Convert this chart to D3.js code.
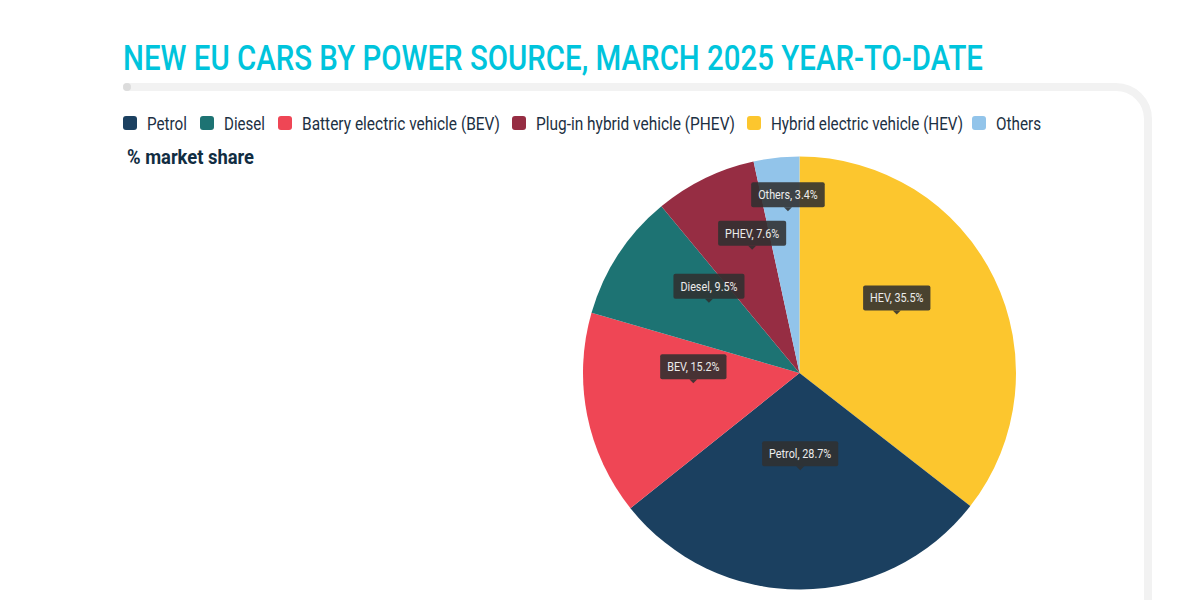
<!DOCTYPE html>
<html>
<head>
<meta charset="utf-8">
<script src="https://cdn.jsdelivr.net/npm/d3@7"></script>
<style>
  html, body { margin: 0; padding: 0; background: #fff; overflow: hidden; }
  text { font-family: Roboto, sans-serif; }
</style>
</head>
<body>
<div id="chart"></div>
<script>
// Data
var categories = ["HEV", "Petrol", "BEV", "Diesel", "PHEV", "Others"];
var shares = [35.5, 28.7, 15.2, 9.5, 7.6, 3.4];

// legend runs in a different order to the slices
var legendKeys = ["Petrol", "Diesel", "BEV", "PHEV", "HEV", "Others"];
var legendLabels = [
  "Petrol",
  "Diesel",
  "Battery electric vehicle (BEV)",
  "Plug-in hybrid vehicle (PHEV)",
  "Hybrid electric vehicle (HEV)",
  "Others"
];
var sliceColors = ["#fcc62e", "#1b4060", "#ef4655", "#1d7373", "#962d43", "#92c4ea"];

var titleText = "NEW EU CARS BY POWER SOURCE, MARCH 2025 YEAR-TO-DATE";
var unitText = "% market share";

// Set up chart
var svgWidth = 1200;
var svgHeight = 600;
var centerX = 799.5;
var centerY = 373;
var radius = 216.5;

// legend layout, the original face is narrower than Roboto so widths are forced
var legendStarts = [123, 200, 278, 512, 747, 972];
var legendWidths = [40, 41, 198, 199, 192, 45];

var svg = d3.select("#chart")
  .append("svg")
  .attr("width", svgWidth)
  .attr("height", svgHeight)
  .style("display", "block");

// Frame behind the chart
svg.append("path")
  .attr("d", "M127,87 H1116 A32,32 0 0 1 1148,119 V620")
  .attr("fill", "none")
  .attr("stroke", "#f2f2f2")
  .attr("stroke-width", 8)
  .attr("stroke-linecap", "round");

svg.append("circle")
  .attr("cx", 127)
  .attr("cy", 87)
  .attr("r", 4)
  .attr("fill", "#dcdcdc");

// Title, squeezed to the width of the original condensed face
svg.append("text")
  .attr("x", 123)
  .attr("y", 70)
  .attr("font-size", 35)
  .attr("font-weight", 500)
  .attr("fill", "#00c4dc")
  .attr("textLength", 860)
  .attr("lengthAdjust", "spacingAndGlyphs")
  .text(titleText);

// Legend
var color = d3.scaleOrdinal().domain(categories).range(sliceColors);

legendKeys.forEach(function(key, i) {
  svg.append("rect")
    .attr("x", legendStarts[i])
    .attr("y", 116)
    .attr("width", 14)
    .attr("height", 14)
    .attr("rx", 3)
    .attr("fill", color(key));

  svg.append("text")
    .attr("x", legendStarts[i] + 24)
    .attr("y", 129.5)
    .attr("font-size", 18)
    .attr("fill", "#1c3043")
    .attr("textLength", legendWidths[i])
    .attr("lengthAdjust", "spacingAndGlyphs")
    .text(legendLabels[i]);
});

svg.append("text")
  .attr("x", 127)
  .attr("y", 164)
  .attr("font-size", 20)
  .attr("font-weight", 700)
  .attr("fill", "#112d42")
  .attr("textLength", 127)
  .attr("lengthAdjust", "spacingAndGlyphs")
  .text(unitText);

// Pie
var pie = d3.pie().sort(null).value(d => d.share);
var arc = d3.arc().innerRadius(0).outerRadius(radius);
var pieData = pie(categories.map((c, i) => ({ name: c, share: shares[i] })));

var pieGroup = svg.append("g")
  .attr("transform", `translate(${centerX}, ${centerY})`);

pieGroup.selectAll("path")
  .data(pieData)
  .enter()
  .append("path")
  .attr("d", arc)
  .attr("fill", d => color(d.data.name));

// Tooltips sit on the centroids; the narrow slices get lifted so they don't collide
var labelLift = { Others: 43, PHEV: 15 };
var boxHeight = 25;
var tipHeight = 4;
var tipGap = 11;

var labels = pieGroup.selectAll(".pie-label")
  .data(pieData)
  .enter()
  .append("g")
  .attr("class", "pie-label")
  .attr("transform", function(d) {
    var c = arc.centroid(d);
    return `translate(${c[0]}, ${c[1] - tipGap - (labelLift[d.data.name] || 0)})`;
  });

labels.append("rect")
  .attr("rx", 2)
  .attr("y", -boxHeight - tipHeight)
  .attr("height", boxHeight)
  .attr("fill", "rgba(48,48,48,0.88)");

labels.append("path")
  .attr("d", `M-4,${-tipHeight} L0,0 L4,${-tipHeight} Z`)
  .attr("fill", "rgba(48,48,48,0.88)");

labels.append("text")
  .attr("text-anchor", "middle")
  .attr("y", -tipHeight - 8)
  .attr("font-size", 13.5)
  .attr("fill", "#ececec")
  .text(d => `${d.data.name}, ${d.data.share}%`)
  .each(function() {
    var w = this.getComputedTextLength() * 0.8;
    d3.select(this).attr("textLength", w).attr("lengthAdjust", "spacingAndGlyphs");
    d3.select(this.parentNode).select("rect")
      .attr("x", -w / 2 - 7)
      .attr("width", w + 14);
  });
</script>
</body>
</html>
